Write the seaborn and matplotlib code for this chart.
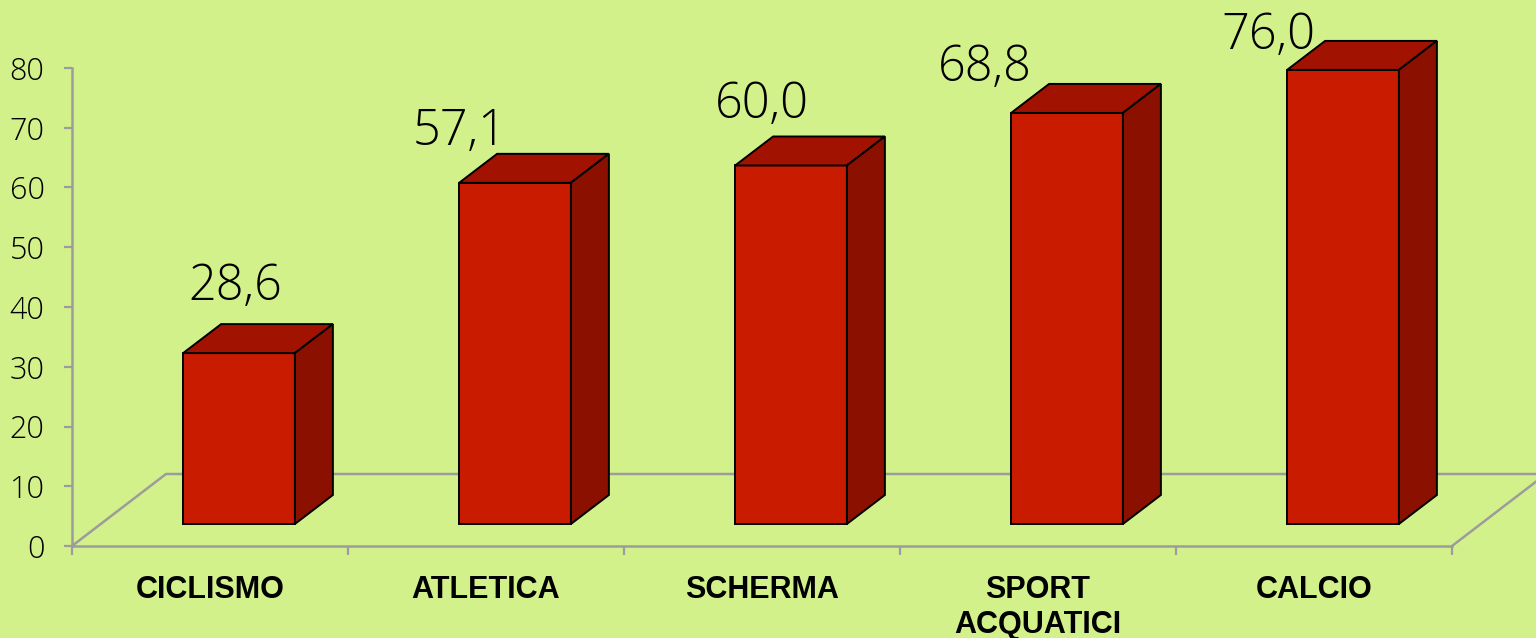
import matplotlib
matplotlib.use('Agg')
import matplotlib.pyplot as plt
from matplotlib.patches import Polygon
import numpy as np
import pandas as pd
import seaborn as sns

categories = ['CICLISMO', 'ATLETICA', 'SCHERMA', 'SPORT\nACQUATICI', 'CALCIO']
values = [28.6, 57.1, 60.0, 68.8, 76.0]
y_ticks = [0, 10, 20, 30, 40, 50, 60, 70, 80]

# where each value label sits, relative to the bar's front top-left corner (px)
label_dx = [52, 1, 27, -26, -19]
label_dy = [53, 38, 48, 32, 21]

BG = '#d3f18b'
FRONT = '#c81b00'
TOP = '#a11300'
SIDE = '#8b1000'
GREY = '#9c9c9c'

W, H = 1536, 638
# front plane of the chart, in pixels
AX_L, AX_R, AX_T, AX_B = 72, 1452, 68, 546

sns.set_theme(style='ticks')
plt.rcParams['font.family'] = ['Open Sans', 'DejaVu Sans']
plt.rcParams['font.weight'] = 300
plt.rcParams['text.color'] = 'black'

fig = plt.figure(figsize=(W / 100, H / 100), dpi=100, facecolor=BG)
ax = fig.add_axes([AX_L / W, 1 - AX_B / H, (AX_R - AX_L) / W, (AX_B - AX_T) / H])
ax.set_facecolor(BG)

df = pd.DataFrame({'sport': categories, 'pct': values})
sns.barplot(data=df, x='sport', y='pct', width=0.405, color=FRONT, saturation=1,
            edgecolor='black', linewidth=1.4, ax=ax)
bars = list(ax.patches)

ax.set_xlim(-0.5, 4.5)
ax.set_ylim(0, 80)
ax.set_xlabel('')
ax.set_ylabel('')

# pixel offsets -> data units
sx = (AX_R - AX_L) / 5.0
sy = (AX_B - AX_T) / 80.0
fx, fy = 29 / sx, 22 / sy   # bars stand a bit behind the front edge
dx, dy = 38 / sx, 29 / sy   # depth of each bar
gx, gy = 94 / sx, 72 / sy   # depth of the floor

# floor outline (behind the bars)
ax.plot([-0.5, -0.5 + gx, 4.5 + gx, 4.5], [0, gy, gy, 0], color=GREY, lw=1.8,
        clip_on=False, zorder=1)

for i, p in enumerate(bars):
    x0 = p.get_x() + fx
    w = p.get_width()
    h = p.get_height()
    p.set_x(x0)
    p.set_y(fy)
    p.set_zorder(3)
    p.set_clip_on(False)
    top = Polygon([(x0, fy + h), (x0 + w, fy + h), (x0 + w + dx, fy + h + dy), (x0 + dx, fy + h + dy)],
                  closed=True, fc=TOP, ec='black', lw=1.4, clip_on=False, zorder=3)
    side = Polygon([(x0 + w, fy), (x0 + w + dx, fy + dy), (x0 + w + dx, fy + h + dy), (x0 + w, fy + h)],
                   closed=True, fc=SIDE, ec='black', lw=1.4, clip_on=False, zorder=3)
    ax.add_patch(top)
    ax.add_patch(side)
    ax.annotate(f'{values[i]:.1f}'.replace('.', ','), xy=(x0, fy + h),
                xytext=(label_dx[i] * 0.72, label_dy[i] * 0.72), textcoords='offset points',
                ha='center', va='baseline', fontsize=35, color='black', annotation_clip=False)

# axes styling
for s in ['top', 'right']:
    ax.spines[s].set_visible(False)
for s in ['left', 'bottom']:
    ax.spines[s].set_color(GREY)
    ax.spines[s].set_linewidth(1.8)
    ax.spines[s].set_zorder(2)

ax.set_yticks(y_ticks)
ax.set_yticklabels([str(t) for t in y_ticks])
ax.tick_params(axis='y', length=5.8, width=1.6, color=GREY, labelcolor='black',
               pad=14, labelsize=22, direction='out')

ax.set_xticks(np.arange(-0.5, 5, 1), minor=True)
ax.tick_params(axis='x', which='minor', length=6.5, width=1.6, color=GREY, direction='out')
ax.tick_params(axis='x', which='major', length=0, pad=21, labelsize=22, labelcolor='black')
for lbl in ax.get_xticklabels():
    lbl.set_fontfamily(['Liberation Sans', 'DejaVu Sans'])
    lbl.set_fontweight('bold')

fig.savefig('out.png', dpi=100, facecolor=BG)
